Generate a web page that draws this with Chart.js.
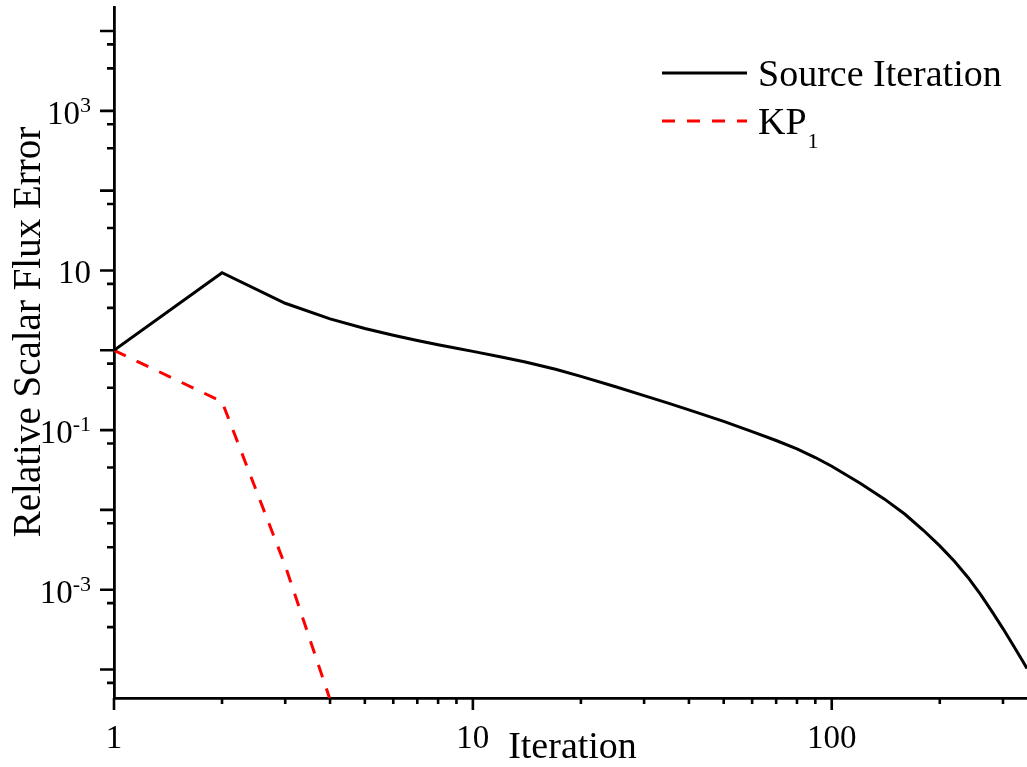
<!DOCTYPE html>
<html><head><meta charset="utf-8">
<script src="https://cdn.jsdelivr.net/npm/chart.js@4.4.1/dist/chart.umd.min.js"></script>
<style>html,body{margin:0;padding:0;background:#fff;}#wrap{width:1027px;height:767px;position:relative;}</style>
</head><body><div id="wrap"><canvas id="c"></canvas></div>
<script>
// ---- data ----
const siIterations = [1, 2, 3, 4, 5, 6, 7, 8, 9, 10, 12, 14, 17, 20, 25, 30, 35, 40, 50, 60, 70, 80, 90, 100, 120, 140, 160, 180, 200, 220, 240, 260, 280, 300, 320, 340, 350];
const siErrors = [1.0, 9.38, 3.88, 2.47, 1.876, 1.542, 1.323, 1.172, 1.060, 0.969, 0.822, 0.714, 0.578, 0.471, 0.349, 0.2707, 0.2175, 0.1792, 0.1286, 0.0958, 0.0741, 0.0583, 0.0453, 0.0352, 0.02157, 0.01375, 0.00882, 0.00556, 0.003544, 0.00226, 0.001416, 8.70e-4, 5.27e-4, 3.26e-4, 2.03e-4, 1.29e-4, 1.03e-4];
const kpIterations = [1, 2, 3, 4];
const kpErrors = [1.0, 0.227, 2.0e-3, 4.2e-5];

const xTickMajor = [1, 10, 100];
const xTickLabels = ['1', '10', '100'];
const xTickMinor = [2, 3, 4, 5, 6, 7, 8, 9, 20, 30, 40, 50, 60, 70, 80, 90, 200, 300];
const yTickMajor = [1e4, 1e3, 1e2, 1e1, 1, 1e-1, 1e-2, 1e-3, 1e-4];
const yTickMinor = [6.8e3, 3.4e3, 6.8e2, 3.4e2, 68, 34, 6.8, 3.4, 0.68, 0.34, 0.068, 0.034, 6.8e-3, 3.4e-3, 6.8e-4, 3.4e-4, 6.8e-5];
const yLabelValues = [1e3, 10, 1e-1, 1e-3];
const yLabelBase = ['10', '10', '10', '10'];
const yLabelExp = ['3', '', '-1', '-3'];

const seriesNames = ['Source Iteration', 'KP'];
const seriesSubscripts = ['', '1'];
const xTitle = 'Iteration';
const yTitle = 'Relative Scalar Flux Error';

const SERIF = "'Liberation Serif', 'Times New Roman', serif";

const decorPlugin = {
  id: 'decor',
  afterDraw(chart) {
    const ctx = chart.ctx;
    const xs = chart.scales.x, ys = chart.scales.y;
    const area = chart.chartArea;
    ctx.save();
    ctx.strokeStyle = '#000';
    ctx.fillStyle = '#000';
    ctx.lineWidth = 2.6;
    // x ticks
    ctx.beginPath();
    xTickMajor.forEach(v => { const p = xs.getPixelForValue(v); ctx.moveTo(p, area.bottom); ctx.lineTo(p, area.bottom + 12); });
    xTickMinor.forEach(v => { const p = xs.getPixelForValue(v); ctx.moveTo(p, area.bottom); ctx.lineTo(p, area.bottom + 6); });
    // y ticks
    yTickMajor.forEach(v => { const p = ys.getPixelForValue(v); ctx.moveTo(area.left, p); ctx.lineTo(area.left - 14, p); });
    yTickMinor.forEach(v => { const p = ys.getPixelForValue(v); ctx.moveTo(area.left, p); ctx.lineTo(area.left - 7, p); });
    ctx.stroke();

    // x tick labels
    ctx.font = '33px ' + SERIF;
    ctx.textAlign = 'center';
    ctx.textBaseline = 'alphabetic';
    xTickMajor.forEach((v, i) => {
      ctx.fillText(xTickLabels[i], xs.getPixelForValue(v), area.bottom + 50);
    });

    // y tick labels with superscripts
    const rightX = area.left - 23;
    yLabelValues.forEach((v, i) => {
      const p = ys.getPixelForValue(v);
      ctx.font = '22px ' + SERIF;
      const ew = yLabelExp[i] ? ctx.measureText(yLabelExp[i]).width : 0;
      ctx.font = '33px ' + SERIF;
      const bw = ctx.measureText(yLabelBase[i]).width;
      ctx.textAlign = 'left';
      ctx.fillText(yLabelBase[i], rightX - ew - bw, p + 13);
      if (yLabelExp[i]) {
        ctx.font = '22px ' + SERIF;
        ctx.fillText(yLabelExp[i], rightX - ew, p + 1);
      }
    });

    // axis titles
    ctx.font = '38px ' + SERIF;
    ctx.textAlign = 'center';
    ctx.fillText(xTitle, (area.left + area.right) / 2 + 2, area.bottom + 60);
    ctx.save();
    ctx.font = '39px ' + SERIF;
    ctx.translate(40, 332);
    ctx.rotate(-Math.PI / 2);
    ctx.fillText(yTitle, 0, 0);
    ctx.restore();

    // legend
    const rowsY = [73, 121];
    chart.data.datasets.forEach((ds, i) => {
      ctx.save();
      ctx.strokeStyle = ds.borderColor;
      ctx.lineWidth = ds.borderWidth;
      ctx.setLineDash(ds.borderDash || []);
      ctx.beginPath();
      ctx.moveTo(662, rowsY[i]);
      ctx.lineTo(747, rowsY[i]);
      ctx.stroke();
      ctx.restore();
      ctx.font = '38px ' + SERIF;
      ctx.textAlign = 'left';
      ctx.fillText(seriesNames[i], 758, rowsY[i] + 13);
      if (seriesSubscripts[i]) {
        const w = ctx.measureText(seriesNames[i]).width;
        ctx.font = '22px ' + SERIF;
        ctx.fillText(seriesSubscripts[i], 758 + w + 1, rowsY[i] + 27);
      }
    });
    ctx.restore();
  }
};

new Chart(document.getElementById('c'), {
  type: 'line',
  data: {
    datasets: [
      {
        label: seriesNames[0],
        data: siIterations.map((x, i) => ({ x: x, y: siErrors[i] })),
        borderColor: '#000000',
        borderWidth: 3,
        pointRadius: 0,
        tension: 0,
        fill: false
      },
      {
        label: seriesNames[1] + '\u2081',
        data: kpIterations.map((x, i) => ({ x: x, y: kpErrors[i] })),
        borderColor: '#ff0000',
        borderWidth: 3,
        borderDash: [13, 12],
        pointRadius: 0,
        tension: 0,
        fill: false
      }
    ]
  },
  options: {
    responsive: true,
    maintainAspectRatio: false,
    animation: false,
    devicePixelRatio: 1,
    layout: { padding: { left: 114, right: 0, top: 7, bottom: 69 } },
    plugins: { legend: { display: false }, tooltip: { enabled: false } },
    scales: {
      x: {
        type: 'logarithmic', min: 1, max: 350, bounds: 'data',
        ticks: { display: false },
        grid: { display: false, drawTicks: false },
        border: { display: true, color: '#000', width: 2.8 },
        title: { display: false, text: xTitle }
      },
      y: {
        type: 'logarithmic', min: 4.4e-5, max: 2e4, bounds: 'data',
        ticks: { display: false },
        grid: { display: false, drawTicks: false },
        border: { display: true, color: '#000', width: 2.8 },
        title: { display: false, text: yTitle }
      }
    }
  },
  plugins: [decorPlugin]
});
</script>
</body></html>
